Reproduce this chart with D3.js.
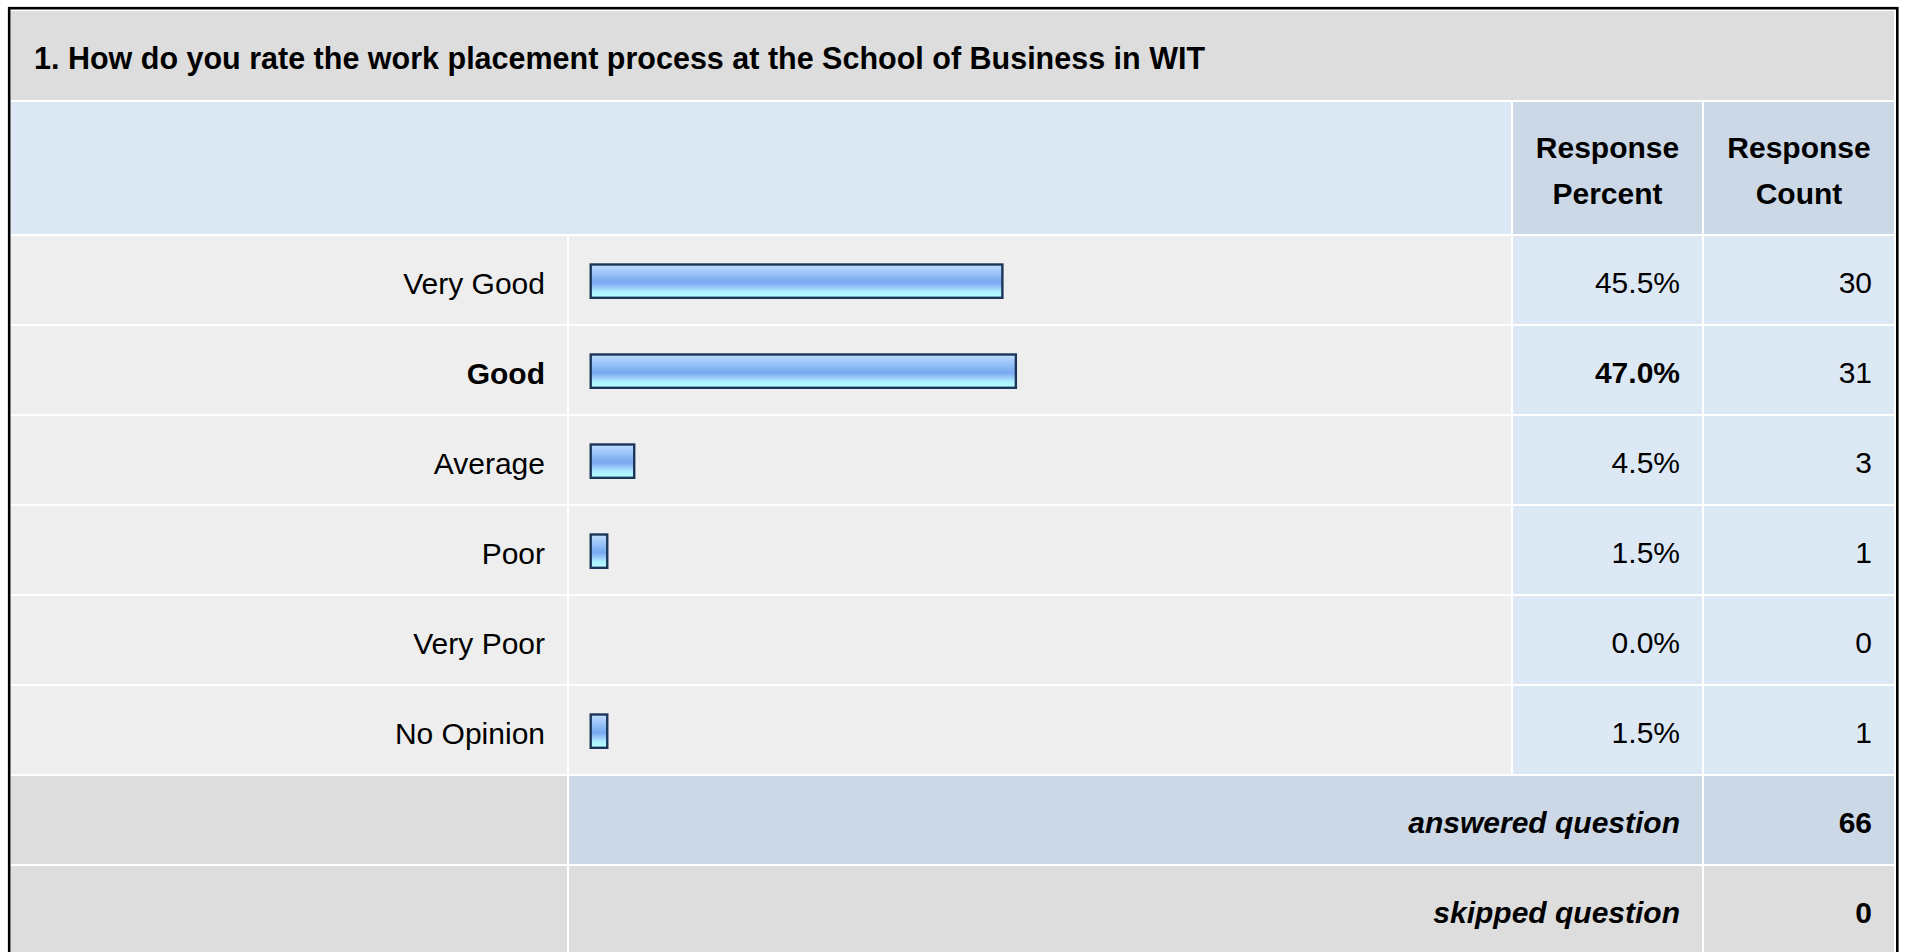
<!DOCTYPE html>
<html>
<head>
<meta charset="utf-8">
<script src="https://cdn.jsdelivr.net/npm/d3@7"></script>
<style>
  html, body { margin: 0; padding: 0; background: #fff; overflow: hidden; }
  svg { display: block; font-family: "Liberation Sans", Arial, sans-serif; }
</style>
</head>
<body>
<svg id="chart" width="1909" height="952"></svg>
<script>
const title = '1. How do you rate the work placement process at the School of Business in WIT';
const categories = ['Very Good', 'Good', 'Average', 'Poor', 'Very Poor', 'No Opinion'];
const percents = [45.5, 47.0, 4.5, 1.5, 0.0, 1.5];
const counts = [30, 31, 3, 1, 0, 1];
const headerLines = [['Response', 'Percent'], ['Response', 'Count']];
const summaryLabels = ['answered question', 'skipped question'];
const summaryValues = [66, 0];

const svg = d3.select('#chart');

// column edges
const left = 11;
const labelRight = 567;
const barRight = 1511;
const pctRight = 1702;
const right = 1894;
const gap = 2;

const rowH = 90;
const y = d3.scaleBand()
  .domain(categories)
  .range([235, 235 + rowH * categories.length]);

const x = d3.scaleLinear()
  .domain([0, 100])
  .range([0, 898]);

const modeIdx = percents.indexOf(d3.max(percents));

// bar gradient
const defs = svg.append('defs');
const grad = defs.append('linearGradient')
  .attr('id', 'barFill')
  .attr('x1', 0).attr('y1', 0).attr('x2', 0).attr('y2', 1);
[
  [0, '#c4defd'], [0.15, '#aacffb'], [0.3, '#97c1f8'], [0.42, '#84b3f3'],
  [0.55, '#79a9f0'], [0.68, '#98c6f8'], [0.8, '#a9eefe'], [1, '#b9ffff']
].forEach(function (s) {
  grad.append('stop').attr('offset', s[0]).attr('stop-color', s[1]);
});

function cell(x0, y0, x1, y1, fill) {
  svg.append('rect')
    .attr('x', x0)
    .attr('y', y0)
    .attr('width', x1 - x0)
    .attr('height', y1 - y0)
    .attr('fill', fill);
}

function label(txt, tx, ty, opts) {
  opts = opts || {};
  svg.append('text')
    .attr('x', tx)
    .attr('y', ty)
    .attr('font-size', opts.size || 30)
    .attr('font-weight', opts.bold ? 'bold' : 'normal')
    .attr('font-style', opts.italic ? 'italic' : 'normal')
    .attr('text-anchor', opts.anchor || 'end')
    .attr('fill', '#000')
    .text(txt);
}

// outer frame
svg.append('rect')
  .attr('x', 9.2)
  .attr('y', 8.2)
  .attr('width', 1897.3 - 9.2)
  .attr('height', 1000)
  .attr('fill', '#fff')
  .attr('stroke', '#000')
  .attr('stroke-width', 2.6);

// title
cell(left, 11, right, 100, '#dddddd');
label(title, 34, 69, { bold: true, anchor: 'start', size: 30.5 });

// header
cell(left, 102, barRight, 234, '#dde8f5');
cell(barRight + gap, 102, pctRight, 234, '#ccd8e6');
cell(pctRight + gap, 102, right, 234, '#ccd8e6');
headerLines.forEach(function (lines, i) {
  const cx = i === 0 ? (barRight + gap + pctRight) / 2 : (pctRight + gap + right) / 2;
  lines.forEach(function (l, j) {
    label(l, cx, 158 + j * 46, { bold: true, anchor: 'middle' });
  });
});

// data rows
const rows = svg.append('g').selectAll('g')
  .data(categories)
  .join('g')
  .attr('transform', function (d) { return 'translate(0,' + y(d) + ')'; });

rows.each(function (d, i) {
  const g = d3.select(this);
  const h = y.bandwidth();
  [[left, labelRight, '#eeeeee'], [labelRight + gap, barRight, '#eeeeee'],
   [barRight + gap, pctRight, '#dde8f5'], [pctRight + gap, right, '#dde8f5']]
    .forEach(function (c) {
      g.append('rect')
        .attr('x', c[0]).attr('y', 1)
        .attr('width', c[1] - c[0]).attr('height', h - gap)
        .attr('fill', c[2]);
    });
  const bold = i === modeIdx ? 'bold' : 'normal';
  g.append('text')
    .attr('x', labelRight - 22).attr('y', 59)
    .attr('font-size', 30).attr('font-weight', bold)
    .attr('text-anchor', 'end')
    .text(d);
  g.append('text')
    .attr('x', pctRight - 22).attr('y', 58)
    .attr('font-size', 30).attr('font-weight', bold)
    .attr('text-anchor', 'end')
    .text(percents[i].toFixed(1) + '%');
  g.append('text')
    .attr('x', right - 22).attr('y', 58)
    .attr('font-size', 30)
    .attr('text-anchor', 'end')
    .text(counts[i]);
  if (percents[i] > 0) {
    const w = x(percents[i]) + 5.5;
    g.append('rect')
      .attr('x', 589.5 + 1.2).attr('y', 28.3 + 1.2)
      .attr('width', w - 2.4).attr('height', 35.7 - 2.4)
      .attr('fill', 'url(#barFill)')
      .attr('stroke', '#1c3658')
      .attr('stroke-width', 2.4);
  }
});

// summary rows
const sumTop = 235 + rowH * categories.length;
summaryLabels.forEach(function (s, i) {
  const top = sumTop + i * rowH + 1;
  const mid = i === 0 ? '#ccd8e6' : '#dddddd';
  cell(left, top, labelRight, top + rowH - gap, '#dddddd');
  cell(labelRight + gap, top, pctRight, top + rowH - gap, mid);
  cell(pctRight + gap, top, right, top + rowH - gap, mid);
  label(s, pctRight - 22, top + 57, { bold: true, italic: true });
  label(summaryValues[i], right - 22, top + 57, { bold: true });
});
</script>
</body>
</html>
